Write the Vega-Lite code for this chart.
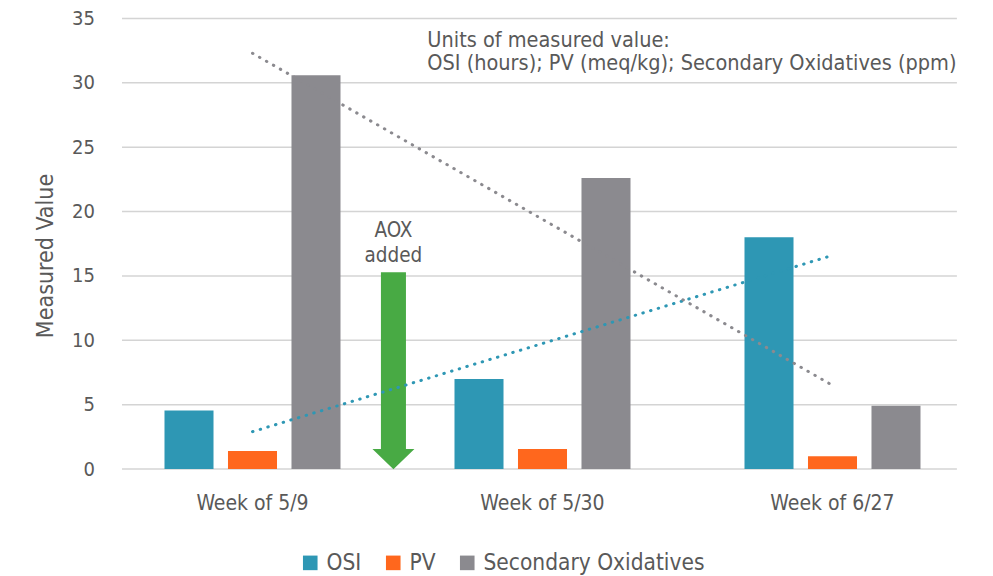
{
  "$schema": "https://vega.github.io/schema/vega-lite/v6.json",
  "width": 870,
  "height": 450.5,
  "autosize": "none",
  "padding": {"left": 107.5, "top": 18.5, "right": 15.5, "bottom": 107},
  "background": "white",
  "config": {
    "font": "DejaVu Sans Condensed, sans-serif",
    "view": {"stroke": null},
    "axis": {"labelColor": "#595959", "titleColor": "#595959", "labelFontSize": 21, "titleFontSize": 23, "titleFontWeight": "normal"},
    "legend": {"labelColor": "#595959", "labelFontSize": 22.5, "labelLimit": 0}
  },
  "datasets": {
    "grid": [
      {"value": 0}, {"value": 5}, {"value": 10}, {"value": 15},
      {"value": 20}, {"value": 25}, {"value": 30}, {"value": 35}
    ],
    "bars": [
      {"week": "Week of 5/9", "series": "OSI", "value": 4.55},
      {"week": "Week of 5/9", "series": "PV", "value": 1.4},
      {"week": "Week of 5/9", "series": "Secondary Oxidatives", "value": 30.6},
      {"week": "Week of 5/30", "series": "OSI", "value": 7.0},
      {"week": "Week of 5/30", "series": "PV", "value": 1.55},
      {"week": "Week of 5/30", "series": "Secondary Oxidatives", "value": 22.6},
      {"week": "Week of 6/27", "series": "OSI", "value": 18.0},
      {"week": "Week of 6/27", "series": "PV", "value": 1.0},
      {"week": "Week of 6/27", "series": "Secondary Oxidatives", "value": 4.92}
    ],
    "trend": [
      {"week": "Week of 5/9", "series": "OSI", "value": 2.9},
      {"week": "Week of 6/27", "series": "OSI", "value": 16.6},
      {"week": "Week of 5/9", "series": "Secondary Oxidatives", "value": 32.3},
      {"week": "Week of 6/27", "series": "Secondary Oxidatives", "value": 6.5}
    ],
    "arrow": [
      {"week": "Week of 5/9", "value": 7.64}
    ],
    "notes": [
      {"week": "Week of 5/30", "value": 32.8, "label": ["Units of measured value:", "OSI (hours); PV (meq/kg); Secondary Oxidatives (ppm)"]}
    ],
    "aox": [
      {"week": "Week of 5/9", "value": 18.0, "label": ["AOX", "added"]}
    ]
  },
  "layer": [
    {
      "data": {"name": "grid"},
      "mark": {"type": "rule", "color": "#D4D4D4", "strokeWidth": 1.5},
      "encoding": {
        "x": {
          "datum": "Week of 5/9", "bandPosition": 0.05,
          "scale": {"domain": ["Week of 5/9", "Week of 5/30", "Week of 6/27"], "paddingInner": 0, "paddingOuter": 0},
          "axis": {"title": null, "ticks": false, "domain": false, "labelAngle": 0, "labelAlign": "center", "bandPosition": 0.5, "labelPadding": 23, "grid": false}
        },
        "x2": {"datum": "Week of 6/27", "bandPosition": 0.929},
        "y": {
          "field": "value", "type": "quantitative",
          "scale": {"domain": [0, 35], "nice": false},
          "axis": {"title": "Measured Value", "values": [0, 5, 10, 15, 20, 25, 30, 35], "ticks": false, "domain": false, "labelPadding": 13, "titlePadding": 14, "titleY": 237, "grid": false, "labelFontSize": 20}
        }
      }
    },
    {
      "data": {"name": "bars"},
      "mark": {"type": "bar"},
      "encoding": {
        "x": {
          "field": "week", "type": "nominal", "sort": null,
          "scale": {"domain": ["Week of 5/9", "Week of 5/30", "Week of 6/27"], "paddingInner": 0, "paddingOuter": 0},
          "axis": {"title": null, "ticks": false, "domain": false, "labelAngle": 0, "labelAlign": "center", "bandPosition": 0.5, "labelPadding": 23, "grid": false}
        },
        "xOffset": {
          "field": "series", "type": "nominal",
          "scale": {"domain": ["OSI", "PV", "Secondary Oxidatives"], "paddingInner": 0.228, "paddingOuter": 0.8976}
        },
        "y": {
          "field": "value", "type": "quantitative",
          "scale": {"domain": [0, 35], "nice": false},
          "axis": {"title": "Measured Value", "values": [0, 5, 10, 15, 20, 25, 30, 35], "ticks": false, "domain": false, "labelPadding": 13, "titlePadding": 14, "titleY": 237, "grid": false, "labelFontSize": 20}
        },
        "color": {
          "field": "series", "type": "nominal",
          "scale": {"domain": ["OSI", "PV", "Secondary Oxidatives"], "range": ["#2E97B4", "#FF671D", "#8B8A8F"]},
          "legend": {"title": null, "orient": "none", "direction": "horizontal", "legendX": 191.5, "legendY": 533, "symbolType": "square", "symbolSize": 213, "symbolStrokeWidth": 0, "columnPadding": 20, "labelOffset": 5}
        }
      }
    },
    {
      "data": {"name": "arrow"},
      "mark": {"type": "point", "filled": true, "color": "#48AA44", "opacity": 1, "strokeWidth": 0, "size": 38809, "shape": "M-0.127,-1 L0.127,-1 L0.127,0.795 L0.213,0.795 L0,1 L-0.213,0.795 L-0.127,0.795 Z"},
      "encoding": {
        "x": {"field": "week", "type": "nominal", "bandPosition": 0.986},
        "y": {"field": "value", "type": "quantitative"}
      }
    },
    {
      "data": {"name": "trend"},
      "transform": [{"filter": "datum.series === 'OSI'"}],
      "mark": {"type": "line", "color": "#2E97B4", "strokeWidth": 3, "strokeDash": [0.5, 7.5], "strokeCap": "round"},
      "encoding": {
        "x": {"field": "week", "type": "nominal"},
        "y": {"field": "value", "type": "quantitative"}
      }
    },
    {
      "data": {"name": "trend"},
      "transform": [{"filter": "datum.series === 'Secondary Oxidatives'"}],
      "mark": {"type": "line", "color": "#8B8A8F", "strokeWidth": 3, "strokeDash": [0.5, 7.5], "strokeCap": "round"},
      "encoding": {
        "x": {"field": "week", "type": "nominal"},
        "y": {"field": "value", "type": "quantitative"}
      }
    },
    {
      "data": {"name": "notes"},
      "mark": {"type": "text", "align": "left", "baseline": "alphabetic", "fontSize": 21.5, "lineHeight": 23, "color": "#595959"},
      "encoding": {
        "x": {"field": "week", "type": "nominal", "bandPosition": 0.103},
        "y": {"field": "value", "type": "quantitative"},
        "text": {"field": "label"}
      }
    },
    {
      "data": {"name": "aox"},
      "mark": {"type": "text", "align": "center", "baseline": "alphabetic", "fontSize": 20.5, "lineHeight": 25, "color": "#595959"},
      "encoding": {
        "x": {"field": "week", "type": "nominal", "bandPosition": 0.986},
        "y": {"field": "value", "type": "quantitative"},
        "text": {"field": "label"}
      }
    }
  ]
}
